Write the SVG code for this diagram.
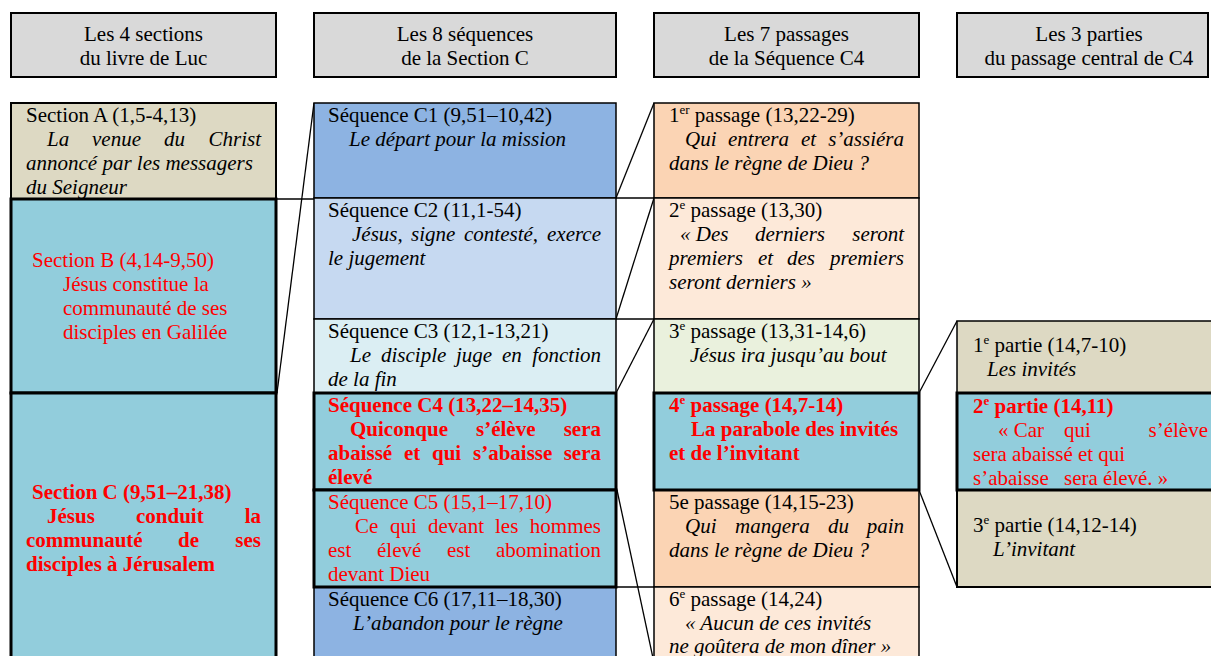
<svg xmlns="http://www.w3.org/2000/svg" width="1211" height="656" viewBox="0 0 1211 656">
<style>
text{font-family:"Liberation Serif","Times New Roman",serif;font-size:21px;fill:#000}
.i{font-style:italic}
.b{font-weight:bold}
.r{fill:#FF0000}
.c{text-anchor:middle}
.e{text-anchor:end}
.hd{fill:#D9D9D9;stroke:#000;stroke-width:2}
.thin{stroke:#000;stroke-width:1.5}
.mid{stroke:#000;stroke-width:2}
.thick{stroke:#000;stroke-width:3}
.beige{fill:#DDD9C3}
.cyan{fill:#92CDDC}
.blue{fill:#8DB3E2}
.lblue{fill:#C6D9F1}
.vlblue{fill:#DBEEF3}
.peach{fill:#FBD4B4}
.lpeach{fill:#FDE9D9}
.green{fill:#EAF1DD}
.conn line{stroke:#000;stroke-width:1.3}
.sup{font-size:13px}
</style>
<rect width="1211" height="656" fill="#fff"/>

<g id="header1"><rect class="hd" x="11" y="13" width="265" height="64"/><text class="c" x="143.5" y="41">Les 4 sections</text><text class="c" x="143.5" y="65">du livre de Luc</text></g>
<g id="header2"><rect class="hd" x="314" y="13" width="302" height="64"/><text class="c" x="465" y="41">Les 8 séquences</text><text class="c" x="465" y="65">de la Section C</text></g>
<g id="header3"><rect class="hd" x="654" y="13" width="265" height="64"/><text class="c" x="786.5" y="41">Les 7 passages</text><text class="c" x="786.5" y="65">de la Séquence C4</text></g>
<g id="header4"><rect class="hd" x="957" y="13" width="251" height="64"/><text class="c" x="1089" y="41">Les 3 parties</text><text class="c" x="1089" y="65">du passage central de C4</text></g>

<g id="connectors" class="conn">
<line x1="276" y1="199" x2="314" y2="199"/>
<line x1="314" y1="103" x2="277" y2="393"/>
<line x1="616" y1="198" x2="654" y2="198"/>
<line x1="616" y1="319" x2="654" y2="319"/>
<line x1="616" y1="587" x2="654" y2="587"/>
<line x1="616" y1="198" x2="654" y2="103"/>
<line x1="616" y1="319" x2="654" y2="198"/>
<line x1="616" y1="393" x2="654" y2="319"/>
<line x1="617" y1="490" x2="653" y2="658"/>
<line x1="919" y1="393" x2="957" y2="321"/>
<line x1="919" y1="490" x2="957" y2="587"/>
</g>

<g id="sectionA"><rect class="beige mid" x="11" y="103" width="265" height="96"/>
<text x="26" y="122">Section A (1,5-4,13)</text>
<text class="i" x="47" y="146">La</text><text class="i" x="92" y="146">venue</text><text class="i" x="164" y="146">du</text><text class="i e" x="261" y="146">Christ</text>
<text class="i" x="26" y="170">annoncé par les messagers</text>
<text class="i" x="26" y="194">du Seigneur</text></g>

<g id="sectionB"><rect class="cyan thick" x="11" y="199" width="265" height="194"/>
<text class="r" x="32" y="267">Section B (4,14-9,50)</text>
<text class="r" x="63" y="291">Jésus constitue la</text>
<text class="r" x="63" y="315">communauté de ses</text>
<text class="r" x="63" y="339">disciples en Galilée</text></g>

<g id="sectionC"><rect class="cyan thick" x="11" y="393" width="265" height="280"/>
<text class="r b" x="32" y="499">Section C (9,51–21,38)</text>
<text class="r b" x="47" y="523">Jésus</text><text class="r b" x="136" y="523">conduit</text><text class="r b e" x="261" y="523">la</text>
<text class="r b" x="26" y="547">communauté</text><text class="r b" x="178" y="547">de</text><text class="r b e" x="261" y="547">ses</text>
<text class="r b" x="26" y="571">disciples à Jérusalem</text></g>

<g id="seqC1"><rect class="blue thin" x="314" y="103" width="302" height="95"/>
<text x="328" y="122">Séquence C1 (9,51–10,42)</text>
<text class="i" x="349" y="146">Le départ pour la mission</text></g>

<g id="seqC2"><rect class="lblue thin" x="314" y="198" width="302" height="121"/>
<text x="328" y="217">Séquence C2 (11,1-54)</text>
<text class="i" x="352" y="241">Jésus,</text><text class="i" x="411" y="241">signe</text><text class="i" x="464" y="241">contesté,</text><text class="i e" x="601" y="241">exerce</text>
<text class="i" x="328" y="265">le jugement</text></g>

<g id="seqC3"><rect class="vlblue thin" x="314" y="319" width="302" height="74"/>
<text x="328" y="338">Séquence C3 (12,1-13,21)</text>
<text class="i" x="350" y="362">Le</text><text class="i" x="381" y="362">disciple</text><text class="i" x="456" y="362">juge</text><text class="i" x="502" y="362">en</text><text class="i e" x="601" y="362">fonction</text>
<text class="i" x="328" y="386">de la fin</text></g>

<g id="seqC6"><rect class="blue thin" x="314" y="587" width="302" height="86"/>
<text x="328" y="606">Séquence C6 (17,11–18,30)</text>
<text class="i" x="353" y="630">L’abandon pour le règne</text></g>

<g id="seqC4"><rect class="cyan thick" x="314" y="393" width="302" height="97"/>
<text class="r b" x="328" y="412">Séquence C4 (13,22–14,35)</text>
<text class="r b" x="350" y="436">Quiconque</text><text class="r b" x="476" y="436">s’élève</text><text class="r b e" x="601" y="436">sera</text>
<text class="r b" x="328" y="460">abaissé</text><text class="r b" x="404" y="460">et</text><text class="r b" x="432" y="460">qui</text><text class="r b" x="473" y="460">s’abaisse</text><text class="r b e" x="601" y="460">sera</text>
<text class="r b" x="328" y="484">élevé</text></g>

<g id="seqC5"><rect class="cyan thick" x="314" y="490" width="302" height="97"/>
<text class="r" x="328" y="509">Séquence C5 (15,1–17,10)</text>
<text class="r" x="355" y="533">Ce</text><text class="r" x="390" y="533">qui</text><text class="r" x="428" y="533">devant</text><text class="r" x="495" y="533">les</text><text class="r e" x="601" y="533">hommes</text>
<text class="r" x="328" y="557">est</text><text class="r" x="377" y="557">élevé</text><text class="r" x="447" y="557">est</text><text class="r e" x="601" y="557">abomination</text>
<text class="r" x="328" y="581">devant Dieu</text></g>

<g id="passage1"><rect class="peach thin" x="654" y="103" width="265" height="95"/>
<text x="669" y="122">1<tspan class="sup" dy="-8">er</tspan><tspan dy="8"> passage (13,22-29)</tspan></text>
<text class="i" x="685" y="146">Qui</text><text class="i" x="728" y="146">entrera</text><text class="i" x="801" y="146">et</text><text class="i e" x="904" y="146">s’assiéra</text>
<text class="i" x="669" y="170">dans le règne de Dieu ?</text></g>

<g id="passage2"><rect class="lpeach thin" x="654" y="198" width="265" height="121"/>
<text x="669" y="217">2<tspan class="sup" dy="-8">e</tspan><tspan dy="8"> passage (13,30)</tspan></text>
<text class="i" x="680" y="241">« Des</text><text class="i" x="755" y="241">derniers</text><text class="i e" x="904" y="241">seront</text>
<text class="i" x="669" y="265">premiers</text><text class="i" x="758" y="265">et</text><text class="i" x="787" y="265">des</text><text class="i e" x="904" y="265">premiers</text>
<text class="i" x="669" y="289">seront derniers »</text></g>

<g id="passage3"><rect class="green thin" x="654" y="319" width="265" height="74"/>
<text x="669" y="338">3<tspan class="sup" dy="-8">e</tspan><tspan dy="8"> passage (13,31-14,6)</tspan></text>
<text class="i" x="690" y="362">Jésus ira jusqu’au bout</text></g>

<g id="passage5"><rect class="peach thin" x="654" y="490" width="265" height="97"/>
<text x="669" y="509">5e passage (14,15-23)</text>
<text class="i" x="685" y="533">Qui</text><text class="i" x="735" y="533">mangera</text><text class="i" x="828" y="533">du</text><text class="i e" x="904" y="533">pain</text>
<text class="i" x="669" y="557">dans le règne de Dieu ?</text></g>

<g id="passage6"><rect class="lpeach thin" x="654" y="587" width="265" height="86"/>
<text x="669" y="606">6<tspan class="sup" dy="-8">e</tspan><tspan dy="8"> passage (14,24)</tspan></text>
<text class="i" x="685" y="630">« Aucun de ces invités</text>
<text class="i" x="669" y="653">ne goûtera de mon dîner »</text></g>

<g id="passage4"><rect class="cyan thick" x="654" y="393" width="265" height="97"/>
<text class="r b" x="669" y="412">4<tspan class="sup" dy="-8">e</tspan><tspan dy="8"> passage (14,7-14)</tspan></text>
<text class="r b" x="691" y="436">La parabole des invités</text>
<text class="r b" x="669" y="460">et de l’invitant</text></g>

<g id="partie1"><rect class="beige thin" x="957" y="321" width="260" height="72"/>
<text x="973" y="352">1<tspan class="sup" dy="-8">e</tspan><tspan dy="8"> partie (14,7-10)</tspan></text>
<text class="i" x="987" y="376">Les invités</text></g>

<g id="partie3"><rect class="beige mid" x="957" y="490" width="260" height="97"/>
<text x="973" y="532">3<tspan class="sup" dy="-8">e</tspan><tspan dy="8"> partie (14,12-14)</tspan></text>
<text class="i" x="993" y="556">L’invitant</text></g>

<g id="partie2"><rect class="cyan thick" x="957" y="393" width="260" height="97"/>
<text class="r b" x="973" y="413">2<tspan class="sup" dy="-8">e</tspan><tspan dy="8"> partie (14,11)</tspan></text>
<text class="r" x="998" y="437">« Car</text><text class="r" x="1064" y="437">qui</text><text class="r e" x="1208" y="437">s’élève</text>
<text class="r" x="973" y="461">sera abaissé et qui</text>
<text class="r" x="973" y="485">s’abaisse</text><text class="r" x="1064" y="485">sera élevé. »</text></g>
</svg>
